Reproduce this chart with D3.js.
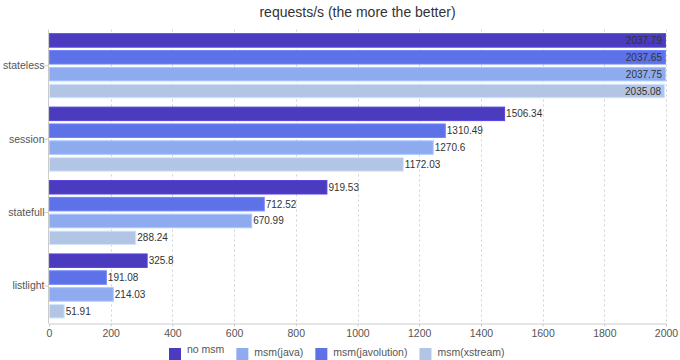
<!DOCTYPE html>
<html>
<head>
<meta charset="utf-8">
<script src="https://cdn.jsdelivr.net/npm/d3@7"></script>
<style>
  html, body { margin: 0; padding: 0; background: #fff; }
  svg { display: block; font-family: "Liberation Sans", Arial, Helvetica, sans-serif; }
</style>
</head>
<body>
<svg id="chart" width="680" height="360"></svg>
<script>
// ---- data ----
const title = "requests/s (the more the better)";
const categories = ["stateless", "session", "statefull", "listlight"];
const noMsm         = [2037.79, 1506.34, 919.53, 325.8];
const msmJavolution = [2037.65, 1310.49, 712.52, 191.08];
const msmJava       = [2037.75, 1270.6, 670.99, 214.03];
const msmXstream    = [2035.08, 1172.03, 288.24, 51.91];
const seriesNames   = ["no msm", "msm(javolution)", "msm(java)", "msm(xstream)"];   // bar order inside a group
const legendOrder   = ["no msm", "msm(java)", "msm(javolution)", "msm(xstream)"];
const xTicks = [0, 200, 400, 600, 800, 1000, 1200, 1400, 1600, 1800, 2000];

const seriesValues = [noMsm, msmJavolution, msmJava, msmXstream];
const colors = {
  "no msm": "#4a3bbf",
  "msm(javolution)": "#5d71e8",
  "msm(java)": "#8fabf0",
  "msm(xstream)": "#b3c5e5"
};

// ---- layout ----
const W = 680, H = 360;
const plotLeft = 49, plotRight = 666, plotTop = 29.5, plotBottom = 322.2, axisY = 323.5;
const svg = d3.select("#chart");

const allVals = seriesValues.flat();
const xAxisScale = d3.scaleLinear().domain([0, 2000]).range([plotLeft, plotRight]);
const xBar = d3.scaleLinear().domain([0, d3.max(allVals)]).range([plotLeft, plotRight]);
const y0 = d3.scaleBand().domain(categories).range([plotTop, plotBottom]).paddingInner(0.1136).paddingOuter(0.05);
const y1 = d3.scaleBand().domain(seriesNames).range([0, y0.bandwidth()]).paddingInner(0.14).paddingOuter(0);

// title
svg.append("text").attr("x", (plotLeft + plotRight) / 2).attr("y", 17)
  .attr("text-anchor", "middle").attr("font-size", 14).attr("fill", "#333").text(title);

// grid
svg.append("g").selectAll("line").data(xTicks.slice(1)).join("line")
  .attr("x1", d => Math.round(xAxisScale(d)) + 0.5).attr("x2", d => Math.round(xAxisScale(d)) + 0.5)
  .attr("y1", plotTop).attr("y2", axisY)
  .attr("stroke", "#d0d0d0").attr("stroke-dasharray", "2,3");

// x axis
const xAxis = d3.axisBottom(xAxisScale).tickValues(xTicks).tickSize(3).tickPadding(3).tickFormat(d3.format("d"));
const gx = svg.append("g").attr("transform", `translate(0,${axisY})`).call(xAxis);
gx.select(".domain").attr("stroke", "#ccc");
gx.selectAll(".tick line").attr("stroke", "#ccc");
gx.selectAll(".tick text").attr("fill", "#555").attr("font-size", 10.5)
  .attr("font-family", "'Liberation Sans', Arial, sans-serif");

// y axis
const yAxis = d3.axisLeft(y0).tickSize(4).tickPadding(0);
const gy = svg.append("g").attr("transform", `translate(${plotLeft - 0.5},0)`).call(yAxis);
gy.select(".domain").attr("stroke", "#ccc").attr("d", `M0,${plotTop}V${axisY}`);
gy.selectAll(".tick line").attr("stroke", "#ccc");
gy.selectAll(".tick text").attr("fill", "#555").attr("font-size", 10.5)
  .attr("font-family", "'Liberation Sans', Arial, sans-serif");

// bars
const rows = [];
categories.forEach((c, i) => {
  seriesNames.forEach((s, j) => rows.push({ cat: c, series: s, value: seriesValues[j][i] }));
});

const bars = svg.append("g");
bars.selectAll("rect").data(rows).join("rect")
  .attr("x", plotLeft + 0.5)
  .attr("y", d => y0(d.cat) + y1(d.series) + 0.5)
  .attr("width", d => Math.max(0, xBar(d.value) - plotLeft - 1))
  .attr("height", y1.bandwidth() - 1)
  .attr("fill", d => colors[d.series])
  .attr("stroke", d => d3.color(colors[d.series]).brighter(0.45))
  .attr("stroke-width", 1);

// value labels
const labels = svg.append("g").attr("font-size", 10).attr("fill", "#333");
labels.selectAll("text").data(rows).join("text")
  .attr("y", d => y0(d.cat) + y1(d.series) + y1.bandwidth() / 2)
  .attr("dy", "0.35em")
  .text(d => String(d.value))
  .each(function(d) {
    const w = this.getComputedTextLength();
    const end = xBar(d.value);
    if (end + 1 + w > W - 4) {
      d3.select(this).attr("x", end - 4).attr("text-anchor", "end");
    } else {
      d3.select(this).attr("x", end + 1).attr("text-anchor", "start");
    }
  });

// legend
const leg = svg.append("g");
const items = leg.selectAll("g").data(legendOrder).join("g");
items.append("rect").attr("width", 12).attr("height", 12).attr("y", 348)
  .attr("fill", d => colors[d]);
items.append("text").attr("x", 18).attr("y", (d, i) => i === 0 ? 353 : 356)
  .attr("font-size", 10.5).attr("fill", "#555").text(d => d);
let cx = 0;
const offs = [];
items.each(function() {
  const w = d3.select(this).select("text").node().getComputedTextLength();
  offs.push(cx);
  cx += 18 + w + 12;
});
const total = cx - 12;
const startX = 169;
items.attr("transform", (d, i) => `translate(${startX + offs[i]},0)`);
</script>
</body>
</html>
